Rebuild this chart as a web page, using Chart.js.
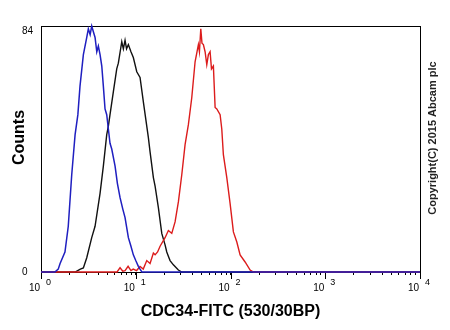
<!DOCTYPE html>
<html>
<head>
<meta charset="utf-8">
<script src="https://cdn.jsdelivr.net/npm/chart.js@4.4.0/dist/chart.umd.min.js"></script>
<style>
  html, body { margin: 0; padding: 0; background: #fff; }
  canvas { display: block; }
</style>
</head>
<body>
<canvas id="myChart" width="450" height="330"></canvas>
<script>
const blueX = [1, 1.4, 1.52, 1.59, 1.79, 1.94, 2.11, 2.29, 2.45, 2.58, 2.8, 3.04, 3.16, 3.3, 3.43, 3.57, 3.72, 3.88, 4.03, 4.2, 4.38, 4.55, 4.74, 4.94, 5.14, 5.35, 5.58, 6.05, 6.4, 6.83, 7.3, 7.71, 8.36, 8.9, 9.43, 10.0, 10.65, 11.1, 11.6, 10000];
const blueY = [0, 0, 1, 3, 7, 16, 34, 48, 55, 65, 76, 82, 85, 83, 86, 84, 82, 77, 79, 76, 72, 65, 57, 55, 50, 45, 43, 37, 31, 26, 22, 19, 12, 9, 6, 4, 2, 1, 0, 0];

const blackX = [1, 2.29, 2.6, 2.8, 3.04, 3.43, 3.72, 4.2, 4.55, 4.94, 5.14, 5.35, 5.8, 6.3, 6.55, 7.12, 7.4, 7.71, 8.0, 8.36, 8.9, 9.43, 10.25, 11.1, 12.03, 13.59, 14.16, 15.35, 16.0, 17.33, 18.82, 20.39, 21.25, 22.09, 23.02, 24.95, 28.18, 30.6, 10000];
const blackY = [0, 0, 1, 1.4, 5, 12, 16, 27.5, 37, 48, 51, 55, 63, 71, 73, 80.5, 78, 81, 78, 79.5, 77, 75, 70, 68, 59.5, 47, 42, 33, 30, 22.5, 13.5, 9.5, 7, 5.5, 4, 2.5, 0.7, 0, 0];

const redX = [1, 6.35, 6.83, 7.3, 7.71, 8.3, 8.9, 9.4, 10.2, 11.1, 12.0, 13.07, 14.16, 15.35, 16.0, 17.0, 18.06, 20.39, 22.09, 24.0, 26.0, 28.18, 30.6, 33.16, 35.93, 39.03, 42.29, 45.81, 47.0, 48.58, 50.0, 51.74, 53.93, 56.2, 58.44, 60.9, 63.0, 65.98, 68.8, 71.7, 77.7, 80.9, 84.1, 91.4, 99.0, 107.3, 116.6, 126.3, 142.6, 161.1, 174.5, 10000];
const redY = [0, 0, 1.5, 0.3, 0.5, 2, 0.5, 1, 0.5, 1.9, 1, 4, 3, 6.6, 6, 7, 9, 12, 14.5, 13.5, 17.5, 24.5, 34, 44.5, 51.5, 61, 73.5, 79.5, 77, 85, 80, 79.5, 77, 72.5, 76, 77, 71, 72, 57.5, 57, 55, 50, 41, 33, 24, 14, 10.5, 6, 3.5, 0.7, 0, 0];

const xDecadas = [1, 10, 100, 1000, 10000];
const xExponentes = ['0', '1', '2', '3', '4'];
const yTicks = [0, 84];
const tituloX = 'CDC34-FITC (530/30BP)';
const tituloY = 'Counts';
const copyright = 'Copyright(C) 2015 Abcam plc';

const ctx = document.getElementById('myChart');
const fuente = 'Arial, "Liberation Sans", sans-serif';
Chart.defaults.font.family = fuente;
Chart.defaults.color = '#000';

function puntos(xs, ys) {
  return xs.map((x, i) => ({x: x, y: ys[i]}));
}

// ticks menores 2..9 de cada decada
const xTicksTodos = [];
xDecadas.forEach((d, i) => {
  xTicksTodos.push(d);
  if (i < xDecadas.length - 1) {
    for (let k = 2; k <= 9; k++) xTicksTodos.push(d * k);
  }
});

const decoracion = {
  id: 'decoracion',
  beforeDatasetsDraw(chart) {
    const a = chart.chartArea;
    const c = chart.ctx;
    c.save();
    c.strokeStyle = '#000';
    c.lineWidth = 1;
    c.strokeRect(a.left + 0.5, a.top + 0.5, a.right - a.left, a.bottom - a.top);
    // ticks mayores mas largos
    const xs = chart.scales.x;
    xDecadas.forEach(v => {
      const px = Math.round(xs.getPixelForValue(v)) + 0.5;
      c.beginPath();
      c.moveTo(px, a.bottom);
      c.lineTo(px, a.bottom + 7);
      c.stroke();
    });
    c.restore();
  },
  afterDraw(chart) {
    const c = chart.ctx;
    const xs = chart.scales.x;
    c.save();
    c.fillStyle = '#000';
    c.textBaseline = 'middle';
    xDecadas.forEach((v, i) => {
      const px = xs.getPixelForValue(v);
      c.font = '10px ' + fuente;
      c.textAlign = 'right';
      c.fillText('10', px - 1, 288);
      c.font = '9px ' + fuente;
      c.textAlign = 'left';
      c.fillText(xExponentes[i], px + 5, 283);
    });
    // titulo eje y
    c.save();
    c.translate(19.5, 137.5);
    c.rotate(-Math.PI / 2);
    c.textAlign = 'center';
    c.font = 'bold 16px ' + fuente;
    c.fillText(tituloY, 0, 0);
    c.restore();
    // copyright vertical
    c.save();
    c.translate(433, 138);
    c.rotate(-Math.PI / 2);
    c.textAlign = 'center';
    c.fillStyle = '#222';
    c.font = 'bold 11px ' + fuente;
    c.fillText(copyright, 0, 0);
    c.restore();
    c.restore();
  }
};

new Chart(ctx, {
  type: 'line',
  data: {
    datasets: [
      {label: 'azul', data: puntos(blueX, blueY), borderColor: '#1f1fc0', borderWidth: 1.5, clip: false},
      {label: 'rojo', data: puntos(redX, redY), borderColor: '#dc1c1c', borderWidth: 1.4, clip: false},
      {label: 'negro', data: puntos(blackX, blackY), borderColor: '#111', borderWidth: 1.4, clip: false}
    ]
  },
  options: {
    responsive: false,
    animation: false,
    devicePixelRatio: 1,
    layout: {padding: {left: 22, top: 26, right: 30, bottom: 0}},
    elements: {
      point: {radius: 0},
      line: {tension: 0, fill: false}
    },
    plugins: {
      legend: {display: false},
      tooltip: {enabled: false}
    },
    scales: {
      x: {
        type: 'logarithmic',
        min: 1,
        max: 10000,
        afterBuildTicks: scale => { scale.ticks = xTicksTodos.map(v => ({value: v})); },
        afterFit: scale => { scale.height = 58; },
        ticks: {display: false},
        grid: {drawOnChartArea: false, drawTicks: true, tickLength: 3, tickColor: '#000'},
        border: {display: false},
        title: {
          display: true,
          text: tituloX,
          font: {size: 16, weight: 'bold'},
          padding: {top: 0, bottom: 9}
        }
      },
      y: {
        min: 0,
        max: 86,
        afterBuildTicks: scale => { scale.ticks = yTicks.map(v => ({value: v})); },
        afterFit: scale => { scale.width = 19; },
        ticks: {crossAlign: 'far', font: {size: 10}, padding: 0},
        grid: {display: false, drawTicks: false},
        border: {display: false}
      }
    }
  },
  plugins: [decoracion]
});
</script>
</body>
</html>
